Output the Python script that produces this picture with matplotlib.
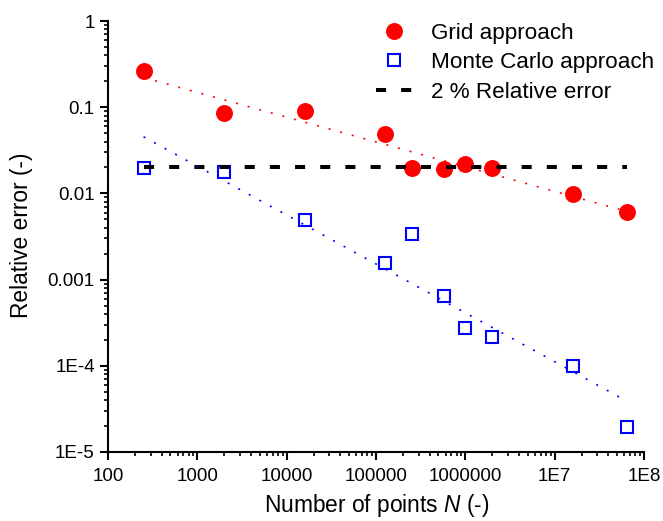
import numpy as np
import matplotlib
matplotlib.use('Agg')
import matplotlib.pyplot as plt
from matplotlib.ticker import FixedLocator, FixedFormatter, LogLocator, NullFormatter
from matplotlib.lines import Line2D

# ---- data ----
n_points = [250, 2000, 16000, 125000, 250000, 580000, 1000000, 2000000, 16000000, 64000000]
grid_err = [0.26, 0.085, 0.09, 0.049, 0.0199, 0.0192, 0.0217, 0.0196, 0.0098, 0.0061]
mc_err = [0.0199, 0.0176, 0.00495, 0.00157, 0.00335, 0.00065, 0.000277, 0.000218, 0.0001, 0.0000197]
target_err = 0.02

x_ticks = [1e2, 1e3, 1e4, 1e5, 1e6, 1e7, 1e8]
x_tick_labels = ["100", "1000", "10000", "100000", "1000000", "1E7", "1E8"]
y_ticks = [1e-5, 1e-4, 1e-3, 1e-2, 1e-1, 1]
y_tick_labels = ["1E-5", "1E-4", "0.001", "0.01", "0.1", "1"]

labels = ["Grid approach", "Monte Carlo approach", "2 % Relative error"]
x_label = r"Number of points $\mathit{N}$ (-)"
y_label = "Relative error (-)"

# ---- style ----
plt.rcParams['font.family'] = ['Liberation Sans', 'DejaVu Sans']
plt.rcParams['mathtext.fontset'] = 'custom'
plt.rcParams['mathtext.rm'] = 'Liberation Sans'
plt.rcParams['mathtext.it'] = 'Liberation Sans:italic'

W, H = 663, 521
fig = plt.figure(figsize=(W / 100, H / 100), dpi=100)
L, R, T, B = 108, 644, 21, 452
ax = fig.add_axes([L / W, 1 - B / H, (R - L) / W, (B - T) / H])

ax.set_xscale('log')
ax.set_yscale('log')
ax.set_xlim(1e2, 1e8)
ax.set_ylim(1e-5, 1)

red = (1, 0, 0)
blue = (0, 0, 1)

# power-law fits (least squares in log-log space)
lx = np.log10(n_points)
pg = np.polyfit(lx, np.log10(grid_err), 1)
pm = np.polyfit(lx, np.log10(mc_err), 1)
xf = np.logspace(lx[0], lx[-1], 100)

ax.plot(n_points, grid_err, 'o', color=red, markersize=12.2, markeredgewidth=0, zorder=3)
ax.plot(n_points, mc_err, 's', markerfacecolor='none', markeredgecolor=blue,
        markersize=8.1, markeredgewidth=1.5, zorder=3)
ax.plot([n_points[0], n_points[-1]], [target_err, target_err], color='black',
        lw=2.9, linestyle=(0, (2.5, 3.75)), dash_capstyle='butt', zorder=4)
ax.plot(xf, 10 ** np.polyval(pg, np.log10(xf)), color=red, lw=1.2,
        linestyle=(0, (1.2, 6)), zorder=5)
ax.plot(xf, 10 ** np.polyval(pm, np.log10(xf)), color=blue, lw=1.2,
        linestyle=(0, (1.2, 6)), zorder=5)

# axes styling
for s in ['top', 'right']:
    ax.spines[s].set_visible(False)
for s in ['left', 'bottom']:
    ax.spines[s].set_linewidth(1.5)

ax.xaxis.set_major_locator(FixedLocator(x_ticks))
ax.xaxis.set_major_formatter(FixedFormatter(x_tick_labels))
ax.yaxis.set_major_locator(FixedLocator(y_ticks))
ax.yaxis.set_major_formatter(FixedFormatter(y_tick_labels))
ax.xaxis.set_minor_locator(LogLocator(base=10, subs=np.arange(2, 10), numticks=20))
ax.yaxis.set_minor_locator(LogLocator(base=10, subs=np.arange(2, 10), numticks=20))
ax.xaxis.set_minor_formatter(NullFormatter())
ax.yaxis.set_minor_formatter(NullFormatter())
ax.tick_params(which='major', direction='out', length=5.5, width=1.5, labelsize=13.5)
ax.tick_params(which='minor', direction='out', length=3, width=1.2)
ax.tick_params(axis='x', which='major', pad=6)
ax.tick_params(axis='y', which='major', pad=4)

fig.text(377 / W, 1 - 512 / H, x_label, fontsize=16.4, ha='center', va='baseline')
fig.text(21.5 / W, 1 - 235 / H, y_label, fontsize=16.4, ha='center', va='center', rotation=90)

handles = [
    Line2D([], [], marker='o', color=red, linestyle='none', markersize=12.2, markeredgewidth=0),
    Line2D([], [], marker='s', linestyle='none', markerfacecolor='none', markeredgecolor=blue,
           markersize=8.1, markeredgewidth=1.5),
    Line2D([], [], color='black', lw=2.9, linestyle=(0, (2.5, 3.75)), dash_capstyle='butt'),
]
leg = fig.legend(handles, labels, loc='upper left', bbox_to_anchor=(376 / W, 1 - 22.5 / H),
                 frameon=False, fontsize=16.2, handlelength=1.58, handletextpad=0.85,
                 labelspacing=0.38, borderpad=0, borderaxespad=0)

fig.savefig('out.png', dpi=100)
